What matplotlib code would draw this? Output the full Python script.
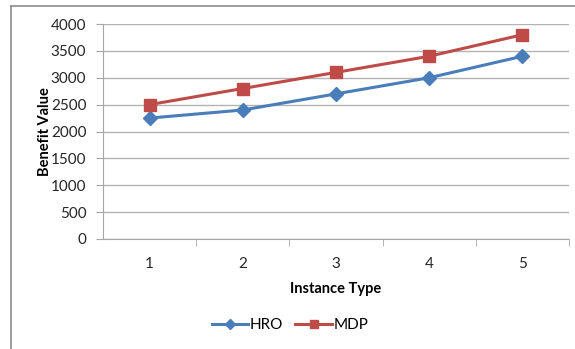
import matplotlib.pyplot as plt
from matplotlib.lines import Line2D

instance_types = [1, 2, 3, 4, 5]
hro_values = [2250, 2400, 2700, 3000, 3400]
mdp_values = [2500, 2800, 3100, 3400, 3800]
y_ticks = [0, 500, 1000, 1500, 2000, 2500, 3000, 3500, 4000]

plt.rcParams['font.family'] = ['Lato', 'DejaVu Sans']

W, H = 575, 349
fig = plt.figure(figsize=(W / 100, H / 100), dpi=100)

# chart frame (left and top edges visible)
fig.add_artist(Line2D([11 / W, 11 / W], [0, 1 - 6 / H], color='#8c8c8c', lw=1.2,
                      transform=fig.transFigure))
fig.add_artist(Line2D([11 / W, 1], [1 - 6 / H, 1 - 6 / H], color='#8c8c8c', lw=1.2,
                      transform=fig.transFigure))

left, right = 103 / W, 569 / W
top, bottom = 1 - 24 / H, 1 - 239 / H
ax = fig.add_axes([left, bottom, right - left, top - bottom])

blue = '#4A7EBB'
red = '#BE4B48'
ax.plot(instance_types, hro_values, color=blue, lw=2.2, marker='D', ms=7,
        label='HRO', zorder=3)
ax.plot(instance_types, mdp_values, color=red, lw=2.2, marker='s', ms=8,
        label='MDP', zorder=3)

ax.set_xlim(0.5, 5.5)
ax.set_ylim(0, 4000)
ax.set_yticks(y_ticks)
ax.set_xticks(instance_types)
ax.set_xticks([1.5, 2.5, 3.5, 4.5, 5.5], minor=True)
ax.tick_params(axis='x', which='major', length=0, pad=13, labelsize=11, colors='#262626')
ax.tick_params(axis='x', which='minor', length=5, color='#a6a6a6', direction='out')
ax.tick_params(axis='y', length=5, color='#a6a6a6', labelsize=11, labelcolor='#262626', pad=7)

ax.grid(axis='y', color='#b3b3b3', lw=1)
ax.set_axisbelow(True)
for s in ['top', 'right']:
    ax.spines[s].set_visible(False)
ax.spines['left'].set_color('#a6a6a6')
ax.spines['bottom'].set_color('#a6a6a6')

ax.set_xlabel('Instance Type', fontweight='bold', fontsize=10.5, labelpad=8)
ax.set_ylabel('Benefit Value', fontweight='bold', fontsize=10.5)
ax.yaxis.set_label_coords(-0.109, 0.5)

leg = fig.legend(loc='center', bbox_to_anchor=(290 / W, 1 - 325 / H), ncol=2,
                 frameon=False, fontsize=11, handlelength=2.4, columnspacing=0.8,
                 handletextpad=0.1, markerscale=0.7)

fig.savefig('out.png', dpi=100)
